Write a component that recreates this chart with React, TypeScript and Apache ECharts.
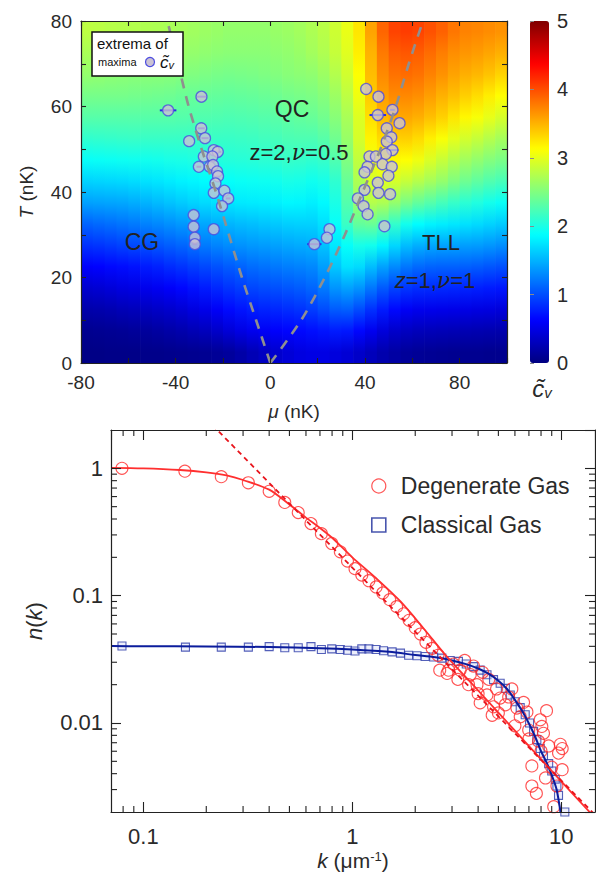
import React, { useEffect, useRef } from "react";
import * as echarts from "echarts";

const FONT = '"Liberation Sans", Arial, Helvetica, sans-serif';
const SERIF = '"DejaVu Serif", "Liberation Serif", serif';

// ---------------- Top panel: c_v map ----------------
const MU_MIN = -80, MU_MAX = 100, T_MIN = 0, T_MAX = 80, CV_MIN = 0, CV_MAX = 5;

const heatMu = [-77.5, -72.5, -67.5, -62.5, -57.5, -52.5, -47.5, -42.5, -37.5, -32.5, -27.5, -22.5, -17.5, -12.5, -7.5, -2.5,
  2.5, 7.5, 12.5, 17.5, 22.5, 27.5, 32.5, 37.5, 42.5, 47.5, 52.5, 57.5, 62.5, 67.5, 72.5, 77.5, 82.5, 87.5, 92.5, 97.5];
const heatT = [2.5, 7.5, 12.5, 17.5, 22.5, 27.5, 32.5, 37.5, 42.5, 47.5, 52.5, 57.5, 62.5, 67.5, 72.5, 77.5];
// rows: T = 2.5 ... 77.5 ; columns: mu = -77.5 ... 97.5
const heatCv = [
  [0.03,0.03,0.04,0.04,0.04,0.05,0.05,0.06,0.07,0.08,0.09,0.11,0.14,0.19,0.26,0.32,0.38,0.43,0.47,0.49,0.49,0.46,0.42,0.36,0.29,0.22,0.17,0.13,0.11,0.10,0.09,0.08,0.08,0.08,0.07,0.07],
  [0.08,0.09,0.10,0.11,0.13,0.14,0.16,0.19,0.22,0.26,0.30,0.36,0.43,0.49,0.54,0.58,0.61,0.64,0.66,0.69,0.72,0.75,0.73,0.65,0.55,0.45,0.37,0.32,0.29,0.28,0.27,0.26,0.25,0.24,0.23,0.22],
  [0.21,0.22,0.24,0.27,0.29,0.32,0.35,0.38,0.42,0.47,0.52,0.59,0.67,0.72,0.76,0.79,0.81,0.84,0.87,0.92,0.99,1.07,1.09,0.99,0.86,0.75,0.66,0.58,0.54,0.53,0.52,0.51,0.50,0.48,0.47,0.45],
  [0.39,0.41,0.44,0.47,0.49,0.53,0.56,0.60,0.65,0.70,0.75,0.81,0.87,0.92,0.96,0.99,1.01,1.04,1.07,1.12,1.22,1.35,1.41,1.35,1.20,1.06,0.95,0.88,0.84,0.83,0.82,0.81,0.79,0.77,0.75,0.73],
  [0.61,0.63,0.66,0.68,0.71,0.75,0.78,0.83,0.87,0.92,0.97,1.02,1.07,1.11,1.15,1.18,1.21,1.24,1.26,1.29,1.40,1.60,1.73,1.70,1.55,1.41,1.30,1.20,1.14,1.11,1.10,1.10,1.09,1.07,1.04,1.01],
  [0.86,0.88,0.91,0.94,0.97,1.00,1.04,1.08,1.12,1.17,1.22,1.27,1.31,1.34,1.37,1.39,1.41,1.44,1.46,1.48,1.58,1.76,1.90,1.98,1.96,1.83,1.68,1.55,1.48,1.44,1.42,1.41,1.40,1.39,1.36,1.32],
  [1.11,1.14,1.16,1.19,1.22,1.26,1.29,1.33,1.37,1.41,1.44,1.48,1.51,1.54,1.56,1.59,1.61,1.64,1.65,1.65,1.72,1.90,2.16,2.36,2.39,2.28,2.12,1.96,1.87,1.82,1.79,1.76,1.73,1.70,1.66,1.62],
  [1.41,1.42,1.43,1.44,1.47,1.50,1.54,1.58,1.62,1.66,1.70,1.73,1.75,1.77,1.78,1.79,1.81,1.84,1.83,1.80,1.85,2.00,2.28,2.60,2.76,2.72,2.60,2.46,2.36,2.29,2.21,2.14,2.08,2.03,1.97,1.92],
  [1.66,1.67,1.68,1.69,1.71,1.73,1.75,1.78,1.81,1.83,1.86,1.89,1.90,1.92,1.93,1.94,1.96,1.99,1.98,1.95,1.98,2.10,2.38,2.72,2.92,2.96,2.92,2.84,2.76,2.68,2.60,2.50,2.41,2.34,2.27,2.22],
  [1.91,1.92,1.93,1.94,1.95,1.96,1.97,1.99,2.00,2.02,2.03,2.04,2.05,2.06,2.07,2.09,2.11,2.14,2.13,2.11,2.14,2.26,2.50,2.82,3.05,3.13,3.15,3.12,3.05,2.95,2.85,2.75,2.66,2.59,2.52,2.47],
  [2.11,2.12,2.13,2.14,2.15,2.15,2.15,2.15,2.15,2.15,2.15,2.15,2.15,2.16,2.17,2.19,2.21,2.24,2.25,2.25,2.30,2.42,2.62,2.92,3.18,3.30,3.35,3.36,3.30,3.20,3.10,3.00,2.91,2.84,2.76,2.68],
  [2.30,2.30,2.30,2.30,2.30,2.30,2.30,2.30,2.29,2.28,2.27,2.26,2.25,2.26,2.27,2.29,2.31,2.34,2.36,2.38,2.43,2.54,2.70,2.96,3.28,3.48,3.55,3.56,3.52,3.44,3.35,3.25,3.16,3.09,3.01,2.93],
  [2.45,2.45,2.45,2.45,2.44,2.43,2.42,2.41,2.39,2.38,2.37,2.36,2.35,2.36,2.37,2.39,2.41,2.44,2.46,2.48,2.53,2.64,2.80,3.05,3.38,3.60,3.70,3.71,3.68,3.60,3.51,3.44,3.36,3.29,3.21,3.13],
  [2.60,2.59,2.57,2.56,2.55,2.55,2.55,2.54,2.52,2.50,2.48,2.46,2.45,2.46,2.47,2.49,2.51,2.54,2.56,2.58,2.64,2.75,2.90,3.12,3.45,3.70,3.82,3.85,3.82,3.74,3.66,3.58,3.52,3.48,3.42,3.34],
  [2.70,2.69,2.67,2.66,2.65,2.65,2.65,2.64,2.62,2.60,2.58,2.56,2.55,2.55,2.55,2.55,2.57,2.59,2.62,2.67,2.73,2.84,2.97,3.20,3.50,3.78,3.92,3.95,3.92,3.85,3.76,3.68,3.64,3.61,3.57,3.52],
  [2.80,2.79,2.77,2.76,2.75,2.73,2.72,2.70,2.68,2.66,2.64,2.62,2.60,2.60,2.60,2.60,2.62,2.64,2.67,2.72,2.78,2.88,3.02,3.25,3.58,3.88,4.05,4.08,4.05,3.98,3.90,3.80,3.74,3.72,3.69,3.66],
];

const JET = ["#000080", "#0000ff", "#0080ff", "#00ffff", "#80ff80", "#ffff00", "#ff8000", "#ff0000", "#800000"];

// extrema of c_v (maxima)
const ptsMu = [-43.2,-29.1,-29.2,-27.6,-34.3,-23.9,-22.2,-28.1,-24.5,-30.2,-25.6,-24.2,-22.5,-22.1,-23.2,-23.9,-19.4,-17.8,-20.4,-32.4,-32.4,-23.9,-31.9,-31.9,
  40.5,45.7,45.4,51.6,54.6,49.2,51.1,49.2,51.6,48.8,41.9,44.6,47.4,41.1,51.3,39.8,49.9,45.4,39.8,45.7,50.6,37.0,39.4,41.1,48.2,25.0,23.9,18.6];
const ptsT = [59.1,62.3,54.9,52.6,51.9,49.8,49.4,48.3,48.3,45.9,45.9,46.3,44.8,43.7,42.0,39.8,40.3,38.5,36.7,34.6,31.9,31.3,29.3,27.8,
  64.1,62.3,58.0,59.2,56.1,54.9,52.8,51.8,49.8,48.9,48.3,48.3,46.5,45.9,45.9,44.6,43.8,42.2,40.5,39.8,39.5,38.5,36.7,34.8,32.0,31.3,29.3,27.8];
const ptsErr = [3.5,2.0,1.5,1.5,0,0,1.5,0,0,1.0,0,0,0,1.0,0,0,0,1.0,0,0,0,0,0,1.0,
  0,0,3.5,1.0,0,0,0,0,2.5,0,0,0,0,0,0,0,0,0,0,0,0,0,0,0,0,0,0,3.0];

// crossover lines (dashed)
const lineT = [0, 10, 20, 30, 40, 50, 60, 70, 80];
const leftLineMu = [0, -6, -12, -17.5, -23, -29, -34.5, -39, -43.5];
const rightLineMu = [0, 13, 23, 31.5, 39, 46.5, 53, 58.5, 64.5];

// ---------------- Bottom panel: n(k) ----------------
const K_MIN = 0.07, K_MAX = 14.5, N_MIN = 0.002, N_MAX = 2;

const degK = [0.079,0.158,0.236,0.318,0.40,0.475,0.551,0.634,0.711,0.797,0.876,0.948,1.03,1.11,1.2,1.3,1.4,1.51,1.63,1.76,1.87,2.0,2.12,2.25,2.41,2.57,
  2.62,2.84,2.89,3.05,3.2,3.28,3.45,3.6,3.67,3.8,3.95,4.0,4.09,4.2,4.41,4.5,4.67,4.74,4.9,5.0,5.1,5.4,5.6,5.8,6.0,6.13,6.36,6.6,6.85,6.98,7.0,7.23,7.23,7.6,7.78,7.93,8.0,8.07,8.22,8.4,8.5,8.7,9.0,9.2,9.53,9.7,9.9,10.1,10.1];
const degN = [1.0,0.95,0.86,0.77,0.66,0.54,0.449,0.368,0.307,0.257,0.221,0.187,0.163,0.145,0.131,0.117,0.105,0.093,0.082,0.072,0.064,0.056,0.05,0.043,0.0385,0.034,
  0.026,0.0245,0.026,0.029,0.022,0.026,0.031,0.02,0.024,0.028,0.02,0.017,0.0144,0.025,0.0166,0.022,0.0115,0.0134,0.0185,0.012,0.0157,0.0139,0.016,0.0185,0.0095,0.0131,0.0112,0.0145,0.0122,0.0088,0.0075,0.0046,0.0032,0.0028,0.0072,0.0106,0.006,0.0094,0.0083,0.0037,0.0125,0.0066,0.0045,0.0022,0.0032,0.0058,0.0068,0.0063,0.0043];

const clsK = [0.079,0.159,0.236,0.318,0.40,0.475,0.551,0.634,0.711,0.797,0.876,0.948,1.03,1.11,1.2,1.3,1.41,1.55,1.7,1.86,2.04,2.23,2.45,2.68,2.94,3.22,3.51,3.81,4.09,4.41,4.74,5.1,5.4,5.7,6.02,6.36,6.72,7.05,7.37,7.64,7.93,8.22,8.7,9.0,9.36,9.53,9.7,10.4];
const clsN = [0.0402,0.0394,0.0394,0.0394,0.0398,0.039,0.039,0.0398,0.0378,0.0382,0.0378,0.0373,0.0368,0.0382,0.0382,0.0378,0.0369,0.0362,0.0354,0.034,0.0337,0.0333,0.033,0.0323,0.031,0.0305,0.0291,0.0277,0.026,0.0239,0.0219,0.0205,0.0187,0.0166,0.0147,0.0132,0.0116,0.01,0.0086,0.0074,0.0063,0.0055,0.0048,0.0042,0.0036,0.0032,0.0027,0.002];

const degFitK = [0.07,0.1,0.15,0.2,0.25,0.3,0.4,0.5,0.55,0.6,0.7,0.8,1.0,1.3,1.7,2.2,2.8,4,6,9,14.5];
const degFitN = [1.01,1.0,0.97,0.93,0.88,0.81,0.68,0.52,0.46,0.41,0.34,0.285,0.2,0.137,0.09,0.055,0.034,0.018,0.0087,0.0042,0.0018];
const degPowK = [0.2, 14.5];
const degPowN = [2.45, 0.0019];

const clsFitK = [0.07,0.1,0.2,0.4,0.7,1.0,1.5,2.0,2.5,3.0,3.5,4.0,4.5,5.0,5.5,6.0,6.5,7.0,7.5,8.0,8.5,9.0,9.5,10.0];
const clsFitN = [0.0402,0.0401,0.0399,0.0395,0.0387,0.0378,0.0362,0.0342,0.0328,0.031,0.029,0.0268,0.0243,0.0215,0.0185,0.0152,0.0124,0.0099,0.0078,0.006,0.0049,0.0039,0.003,0.0018];

const minorK = [0.08,0.09,0.2,0.3,0.4,0.5,0.6,0.7,0.8,0.9,2,3,4,5,6,7,8,9];
const minorN = [0.003,0.004,0.005,0.006,0.007,0.008,0.009,0.02,0.03,0.04,0.05,0.06,0.07,0.08,0.09,0.2,0.3,0.4,0.5,0.6,0.7,0.8,0.9];

const AX = "#222";

function fmtLog(v: number) {
  return String(parseFloat(Number(v).toPrecision(2)));
}

function hexRgb(h: string) {
  return [parseInt(h.slice(1, 3), 16), parseInt(h.slice(3, 5), 16), parseInt(h.slice(5, 7), 16)];
}
const JET_RGB = JET.map(hexRgb);
// same piecewise-linear colour scale as the visualMap (evenly spaced JET stops)
function cvColor(v: number) {
  const t = Math.min(1, Math.max(0, (v - CV_MIN) / (CV_MAX - CV_MIN))) * (JET.length - 1);
  const i = Math.min(JET.length - 2, Math.floor(t));
  const f = t - i;
  const a = JET_RGB[i], b = JET_RGB[i + 1];
  return `rgb(${Math.round(a[0] + (b[0] - a[0]) * f)},${Math.round(a[1] + (b[1] - a[1]) * f)},${Math.round(a[2] + (b[2] - a[2]) * f)})`;
}

export default function App() {
  const ref = useRef<HTMLDivElement>(null);
  useEffect(() => {
    if (!ref.current) return;
    const chart = echarts.init(ref.current, undefined, { renderer: "svg" });

    const halfMu = (heatMu[1] - heatMu[0]) / 2;
    const columns = heatMu.map((mu, c) => [mu, c, 0]);

    const pts = ptsMu.map((m, i) => [m, ptsT[i]]);
    const errs = ptsMu.map((m, i) => [m, ptsT[i], ptsErr[i]]).filter((d) => d[2] > 0);

    const topAxisCommon = {
      gridIndex: 0,
      type: "value",
      z: 10,
      axisLine: { onZero: false, lineStyle: { color: AX, width: 1.2 } },
      axisTick: { inside: true, length: 5, lineStyle: { color: AX, width: 1.1 } },
      splitLine: { show: false },
    };
    const botAxisCommon = {
      gridIndex: 1,
      type: "log",
      logBase: 10,
      z: 10,
      axisLine: { onZero: false, lineStyle: { color: AX, width: 1.2 } },
      axisTick: { inside: true, length: 10, lineStyle: { color: AX, width: 1.1 } },
      splitLine: { show: false },
    };
    const labelStyle = { fontFamily: FONT, color: "#2a2a2a" };

    const option: any = {
      animation: false,
      backgroundColor: "#ffffff",
      grid: [
        { left: 81, top: 21, width: 426, height: 342 },
        { left: 111, top: 430, width: 484, height: 382 },
        { left: 530, top: 21, width: 19, height: 342 },
      ],
      visualMap: {
        type: "continuous",
        min: CV_MIN,
        max: CV_MAX,
        dimension: 2,
        seriesIndex: 0,
        calculable: false,
        hoverLink: false,
        left: 530,
        top: 21,
        padding: 0,
        itemWidth: 19,
        itemHeight: 342,
        inRange: { color: JET },
      },
      legend: {
        left: 366,
        top: 468,
        orient: "vertical",
        itemWidth: 14,
        itemHeight: 14,
        itemGap: 13,
        selectedMode: false,
        textStyle: { fontFamily: FONT, fontSize: 23, color: "#2a2a2a", lineHeight: 26, padding: [0, 0, 0, 10] },
        data: [
          { name: "Degenerate Gas", icon: "circle", itemStyle: { color: "rgba(255,255,255,0)", borderColor: "#ff2a2a", borderWidth: 1.2 } },
          { name: "Classical Gas", icon: "rect", itemStyle: { color: "rgba(255,255,255,0)", borderColor: "#1a2a9a", borderWidth: 1.6 } },
        ],
      },
      xAxis: [
        {
          ...topAxisCommon,
          position: "bottom",
          min: MU_MIN,
          max: MU_MAX,
          interval: 20,
          axisLabel: { ...labelStyle, fontSize: 19, margin: 10, formatter: (v: number) => (v % 40 === 0 ? String(v) : "") },
          name: "{i|μ} (nK)",
          nameLocation: "middle",
          nameGap: 39,
          nameTextStyle: { ...labelStyle, fontSize: 19, rich: { i: { fontStyle: "italic", fontSize: 19, fontFamily: FONT, color: "#2a2a2a" } } },
        },
        { ...topAxisCommon, position: "top", min: MU_MIN, max: MU_MAX, interval: 20, axisLabel: { show: false } },
        {
          ...botAxisCommon,
          position: "bottom",
          min: K_MIN,
          max: K_MAX,
          axisLabel: { ...labelStyle, fontSize: 22, margin: 13, showMinLabel: false, showMaxLabel: false, formatter: fmtLog },
          name: "{i|k} (μm{s|-1})",
          nameLocation: "middle",
          nameGap: 38,
          nameTextStyle: {
            ...labelStyle,
            fontSize: 21,
            rich: {
              i: { fontStyle: "italic", fontSize: 21, fontFamily: FONT, color: "#2a2a2a" },
              s: { fontSize: 13, fontFamily: FONT, color: "#2a2a2a", verticalAlign: "top" },
            },
          },
        },
        { ...botAxisCommon, position: "top", min: K_MIN, max: K_MAX, axisLabel: { show: false } },
        { gridIndex: 2, type: "value", show: false, min: 0, max: 1 },
      ],
      yAxis: [
        {
          ...topAxisCommon,
          position: "left",
          min: T_MIN,
          max: T_MAX,
          interval: 10,
          axisLabel: { ...labelStyle, fontSize: 19, margin: 9, formatter: (v: number) => (v % 20 === 0 ? String(v) : "") },
          name: "{i|T} (nK)",
          nameLocation: "middle",
          nameGap: 45,
          nameTextStyle: { ...labelStyle, fontSize: 19, rich: { i: { fontStyle: "italic", fontSize: 19, fontFamily: FONT, color: "#2a2a2a" } } },
        },
        { ...topAxisCommon, position: "right", min: T_MIN, max: T_MAX, interval: 10, axisLabel: { show: false } },
        {
          ...botAxisCommon,
          position: "left",
          min: N_MIN,
          max: N_MAX,
          axisLabel: { ...labelStyle, fontSize: 22, margin: 8, showMinLabel: false, showMaxLabel: false, formatter: fmtLog },
          name: "{i|n}({i|k})",
          nameLocation: "middle",
          nameGap: 66,
          nameTextStyle: { ...labelStyle, fontSize: 22, rich: { i: { fontStyle: "italic", fontSize: 22, fontFamily: FONT, color: "#2a2a2a" } } },
        },
        { ...botAxisCommon, position: "right", min: N_MIN, max: N_MAX, axisLabel: { show: false } },
        {
          gridIndex: 2,
          type: "value",
          position: "right",
          min: CV_MIN,
          max: CV_MAX,
          interval: 1,
          axisLine: { show: false },
          axisTick: { show: false },
          splitLine: { show: false },
          axisLabel: { ...labelStyle, fontSize: 20, margin: 8 },
        },
        {
          gridIndex: 2,
          type: "value",
          position: "left",
          z: 10,
          min: CV_MIN,
          max: CV_MAX,
          interval: 1,
          axisLine: { show: false },
          axisTick: { show: true, inside: true, length: 4, lineStyle: { color: "#8a8a8a", width: 1 } },
          splitLine: { show: false },
          axisLabel: { show: false },
        },
      ],
      series: [
        {
          // one strip per mu-column; colour stops are the read c_v values at each T row
          type: "custom",
          name: "cv map",
          xAxisIndex: 0,
          yAxisIndex: 0,
          silent: true,
          clip: true,
          encode: { x: 0 },
          data: columns,
          renderItem: (params: any, api: any) => {
            const mu = api.value(0);
            const c = api.value(1);
            const p0 = api.coord([mu - halfMu, T_MAX]);
            const p1 = api.coord([mu + halfMu, T_MIN]);
            const stops = heatT
              .map((t, r) => ({ offset: (T_MAX - t) / (T_MAX - T_MIN), color: cvColor(heatCv[r][c]) }))
              .sort((a, b) => a.offset - b.offset);
            return {
              type: "rect",
              shape: { x: p0[0], y: p0[1], width: p1[0] - p0[0] + 0.7, height: p1[1] - p0[1] },
              style: { fill: new echarts.graphic.LinearGradient(0, 0, 0, 1, stops) },
            };
          },
        },
        {
          type: "line",
          name: "left crossover",
          xAxisIndex: 0,
          yAxisIndex: 0,
          showSymbol: false,
          smooth: 0.3,
          data: leftLineMu.map((m, i) => [m, lineT[i]]),
          lineStyle: { color: "#8f8f8f", width: 2.6, type: [10, 8] },
          silent: true,
        },
        {
          type: "line",
          name: "right crossover",
          xAxisIndex: 0,
          yAxisIndex: 0,
          showSymbol: false,
          smooth: 0.3,
          data: rightLineMu.map((m, i) => [m, lineT[i]]),
          lineStyle: { color: "#8f8f8f", width: 2.6, type: [10, 8] },
          silent: true,
        },
        {
          type: "custom",
          name: "error bars",
          xAxisIndex: 0,
          yAxisIndex: 0,
          silent: true,
          data: errs,
          encode: { x: 0, y: 1 },
          renderItem: (params: any, api: any) => {
            const mu = api.value(0), t = api.value(1), e = api.value(2);
            const a = api.coord([mu - e, t]);
            const b = api.coord([mu + e, t]);
            return { type: "line", shape: { x1: a[0], y1: a[1], x2: b[0], y2: b[1] }, style: { stroke: "#2b2be6", lineWidth: 2 } };
          },
        },
        {
          type: "scatter",
          name: "maxima",
          xAxisIndex: 0,
          yAxisIndex: 0,
          symbol: "circle",
          symbolSize: 11,
          data: pts,
          itemStyle: { color: "#cbc3d3", borderColor: "#4c4ce0", borderWidth: 1.3 },
          silent: true,
        },
        // bottom panel
        {
          type: "custom",
          name: "minor ticks k",
          xAxisIndex: 2,
          yAxisIndex: 2,
          silent: true,
          clip: false,
          data: minorK.map((k) => [k, N_MIN]),
          encode: { x: 0, y: 1 },
          renderItem: (params: any, api: any) => {
            const v = api.value(0);
            const b = api.coord([v, N_MIN]);
            const t = api.coord([v, N_MAX]);
            return {
              type: "group",
              children: [
                { type: "line", shape: { x1: b[0], y1: b[1], x2: b[0], y2: b[1] - 6 }, style: { stroke: AX, lineWidth: 1.1 } },
                { type: "line", shape: { x1: t[0], y1: t[1], x2: t[0], y2: t[1] + 6 }, style: { stroke: AX, lineWidth: 1.1 } },
              ],
            };
          },
        },
        {
          type: "custom",
          name: "minor ticks n",
          xAxisIndex: 2,
          yAxisIndex: 2,
          silent: true,
          clip: false,
          data: minorN.map((n) => [K_MIN, n]),
          encode: { x: 0, y: 1 },
          renderItem: (params: any, api: any) => {
            const v = api.value(1);
            const l = api.coord([K_MIN, v]);
            const r = api.coord([K_MAX, v]);
            return {
              type: "group",
              children: [
                { type: "line", shape: { x1: l[0], y1: l[1], x2: l[0] + 6, y2: l[1] }, style: { stroke: AX, lineWidth: 1.1 } },
                { type: "line", shape: { x1: r[0], y1: r[1], x2: r[0] - 6, y2: r[1] }, style: { stroke: AX, lineWidth: 1.1 } },
              ],
            };
          },
        },
        {
          type: "line",
          name: "classical fit",
          xAxisIndex: 2,
          yAxisIndex: 2,
          showSymbol: false,
          smooth: 0.3,
          data: clsFitK.map((k, i) => [k, clsFitN[i]]),
          lineStyle: { color: "#0b1c9c", width: 2 },
          silent: true,
        },
        {
          type: "scatter",
          name: "Classical Gas",
          xAxisIndex: 2,
          yAxisIndex: 2,
          symbol: "rect",
          symbolSize: 8,
          data: clsK.map((k, i) => [k, clsN[i]]),
          itemStyle: { color: "rgba(210,216,245,0.5)", borderColor: "#2a3aa8", borderWidth: 1.1 },
          silent: true,
        },
        {
          type: "line",
          name: "degenerate fit",
          xAxisIndex: 2,
          yAxisIndex: 2,
          showSymbol: false,
          smooth: 0.3,
          data: degFitK.map((k, i) => [k, degFitN[i]]),
          lineStyle: { color: "#ff2f2f", width: 1.8 },
          silent: true,
        },
        {
          type: "line",
          name: "power law",
          xAxisIndex: 2,
          yAxisIndex: 2,
          showSymbol: false,
          data: degPowK.map((k, i) => [k, degPowN[i]]),
          lineStyle: { color: "#e8141c", width: 1.8, type: [5, 4] },
          silent: true,
        },
        {
          type: "scatter",
          name: "Degenerate Gas",
          xAxisIndex: 2,
          yAxisIndex: 2,
          symbol: "circle",
          symbolSize: 12,
          data: degK.map((k, i) => [k, degN[i]]),
          itemStyle: { color: "rgba(255,255,255,0)", borderColor: "#ff2a2a", borderWidth: 1.1 },
          silent: true,
        },
      ],
      graphic: [
        { type: "text", z: 100, x: 292, y: 109, style: { text: "QC", fontSize: 23, fontFamily: FONT, fill: "#222", align: "center", verticalAlign: "middle" } },
        {
          type: "text", z: 100, x: 299, y: 152,
          style: {
            text: "{n|z=2,}{g|ν}{n|=0.5}", align: "center", verticalAlign: "middle",
            rich: {
              n: { fontSize: 22, fontFamily: FONT, fill: "#222", color: "#222" },
              g: { fontSize: 22, fontFamily: SERIF, fontStyle: "italic", fill: "#222", color: "#222" },
            },
          },
        },
        { type: "text", z: 100, x: 142, y: 242, style: { text: "CG", fontSize: 23, fontFamily: FONT, fill: "#222", align: "center", verticalAlign: "middle" } },
        { type: "text", z: 100, x: 441, y: 242, style: { text: "TLL", fontSize: 22, fontFamily: FONT, fill: "#222", align: "center", verticalAlign: "middle" } },
        {
          type: "text", z: 100, x: 435, y: 280,
          style: {
            text: "{i|z}{n|=1,}{g|ν}{n|=1}", align: "center", verticalAlign: "middle",
            rich: {
              n: { fontSize: 22, fontFamily: FONT, fill: "#222", color: "#222" },
              i: { fontSize: 22, fontFamily: FONT, fontStyle: "italic", fill: "#222", color: "#222" },
              g: { fontSize: 22, fontFamily: SERIF, fontStyle: "italic", fill: "#222", color: "#222" },
            },
          },
        },
        { type: "rect", z: 100, shape: { x: 92, y: 32, width: 91, height: 44 }, style: { fill: "#ffffff", stroke: "#111", lineWidth: 1.5 } },
        { type: "text", z: 101, x: 97, y: 43, style: { text: "extrema of", fontSize: 15, fontFamily: FONT, fill: "#111", verticalAlign: "middle" } },
        { type: "text", z: 101, x: 98, y: 62, style: { text: "maxima", fontSize: 11, fontFamily: FONT, fill: "#111", verticalAlign: "middle" } },
        { type: "circle", z: 101, shape: { cx: 150, cy: 62, r: 4.5 }, style: { fill: "#cbc3d3", stroke: "#4c4ce0", lineWidth: 1.2 } },
        {
          type: "text", z: 101, x: 160, y: 62,
          style: {
            text: "{c|c\u0303}{v|v}", verticalAlign: "middle",
            rich: {
              c: { fontSize: 17, fontFamily: FONT, fontStyle: "italic", fill: "#111", color: "#111" },
              v: { fontSize: 11, fontFamily: FONT, fontStyle: "italic", fill: "#111", color: "#111", verticalAlign: "bottom" },
            },
          },
        },
        {
          type: "text", z: 100, x: 542, y: 388,
          style: {
            text: "{c|c\u0303}{v|v}", align: "center", verticalAlign: "middle",
            rich: {
              c: { fontSize: 24, fontFamily: FONT, fontStyle: "italic", fill: "#2a2a2a", color: "#2a2a2a" },
              v: { fontSize: 15, fontFamily: FONT, fontStyle: "italic", fill: "#2a2a2a", color: "#2a2a2a", verticalAlign: "bottom" },
            },
          },
        },
      ],
    };

    chart.setOption(option);
    return () => chart.dispose();
  }, []);

  return <div ref={ref} style={{ position: "absolute", left: 0, top: 0, width: 596, height: 880 }} />;
}
